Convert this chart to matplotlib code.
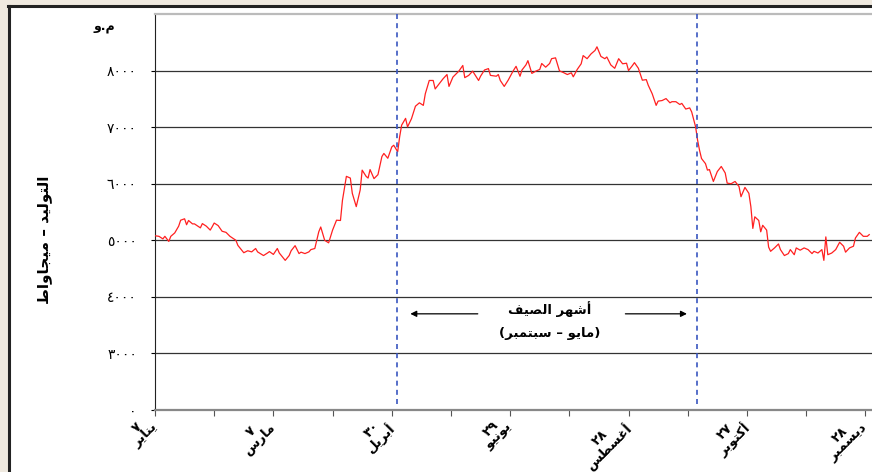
import re
import matplotlib
matplotlib.use("Agg")
import matplotlib.pyplot as plt
import matplotlib.transforms as mtransforms
from matplotlib.patches import Rectangle
from matplotlib.lines import Line2D

plt.rcParams['font.family'] = ['DejaVu Sans']

# daily generation (MW); x = days after 7 January
days = [
    0, 2, 4, 5, 7, 8, 10, 12, 13, 15, 16, 17, 19, 20, 23, 24, 26, 28, 29, 30,
    32, 34, 36, 38, 41, 42, 45, 47, 49, 51, 52, 55, 57, 58, 60, 62, 63, 66, 68, 69,
    71, 73, 74, 76, 78, 79, 81, 83, 84, 86, 88, 90, 92, 94, 95, 97, 99, 100, 102, 104,
    105, 107, 108, 109, 111, 113, 115, 116, 118, 120, 121, 123, 124, 125, 127, 128, 130, 132, 134, 136,
    137, 139, 141, 142, 144, 146, 148, 149, 151, 153, 154, 156, 157, 159, 161, 164, 165, 167, 169, 170,
    173, 174, 175, 177, 179, 181, 182, 183, 185, 186, 188, 189, 191, 193, 195, 196, 198, 200, 201, 203,
    205, 207, 209, 211, 212, 214, 216, 217, 219, 221, 223, 224, 226, 228, 229, 231, 233, 235, 237, 239,
    240, 242, 243, 245, 247, 249, 250, 252, 254, 255, 257, 259, 261, 262, 264, 266, 267, 269, 271, 272,
    274, 275, 276, 277, 279, 280, 281, 283, 285, 287, 289, 290, 292, 294, 296, 297, 299, 301, 302, 303,
    304, 306, 307, 308, 310, 311, 312, 314, 316, 317, 319, 321, 322, 324, 325, 327, 329, 331, 333, 334,
    336, 338, 339, 340, 341, 343, 345, 347, 349, 350, 352, 354, 355, 357, 359, 361, 362,
]
load_mw = [
    5080, 5070, 5025, 5070, 4980, 5070, 5130, 5250, 5355, 5380, 5275, 5350, 5290, 5290, 5220, 5295, 5250, 5180, 5240, 5305,
    5260, 5160, 5140, 5070, 5000, 4910, 4780, 4815, 4795, 4855, 4795, 4730, 4775, 4800, 4750, 4855, 4775, 4645, 4730, 4815,
    4905, 4765, 4790, 4765, 4795, 4835, 4855, 5150, 5235, 5000, 4955, 5180, 5355, 5350, 5705, 6130, 6100, 5830, 5595, 5890,
    6240, 6130, 6100, 6250, 6090, 6160, 6480, 6535, 6450, 6650, 6680, 6565, 6830, 7035, 7155, 7005, 7150, 7370, 7430, 7385,
    7590, 7825, 7825, 7675, 7765, 7855, 7930, 7720, 7885, 7955, 7990, 8090, 7875, 7915, 7990, 7825, 7900, 8010, 8035, 7915,
    7900, 7930, 7825, 7720, 7830, 7960, 8020, 8075, 7900, 8010, 8100, 8175, 7950, 7990, 8020, 8125, 8060, 8125, 8210, 8225,
    7995, 7965, 7930, 7960, 7890, 8020, 8120, 8265, 8210, 8295, 8355, 8420, 8250, 8210, 8240, 8100, 8040, 8210, 8120, 8130,
    8000, 8090, 8140, 8040, 7830, 7840, 7740, 7590, 7385, 7460, 7470, 7505, 7430, 7450, 7450, 7400, 7420, 7320, 7340, 7270,
    7005, 6770, 6590, 6445, 6355, 6240, 6250, 6040, 6215, 6305, 6190, 6010, 6000, 6040, 5950, 5770, 5935, 5830, 5595, 5210,
    5415, 5350, 5150, 5265, 5180, 4880, 4805, 4865, 4935, 4835, 4730, 4765, 4835, 4745, 4865, 4825, 4865, 4835, 4765, 4805,
    4775, 4835, 4645, 5060, 4745, 4775, 4835, 4965, 4895, 4790, 4865, 4895, 5040, 5140, 5070, 5070, 5100,
]
assert len(days) == len(load_mw)

y_ticks = [2000, 3000, 4000, 5000, 6000, 7000, 8000]
y_labels = ['٠', '٣٠٠٠', '٤٠٠٠', '٥٠٠٠', '٦٠٠٠', '٧٠٠٠', '٨٠٠٠']
x_ticks = list(range(0, 361, 30))
month_labels = ['٧\nيناير', '٧\nمارس', '٣٠\nأبريل', '٢٩\nيونيو',
                '٢٨\nأغسطس', '٢٧\nأكتوبر', '٢٨\nديسمبر']
summer_start, summer_end = 122.5, 274.5


# --- tiny Arabic shaper (matplotlib has no shaping / bidi) ---
FORMS = {
    'ا': (0xFE8D, 0xFE8E), 'أ': (0xFE83, 0xFE84), 'د': (0xFEA9, 0xFEAA),
    'ر': (0xFEAD, 0xFEAE), 'و': (0xFEED, 0xFEEE),
    'ب': (0xFE8F, 0xFE90, 0xFE91, 0xFE92), 'ت': (0xFE95, 0xFE96, 0xFE97, 0xFE98),
    'ج': (0xFE9D, 0xFE9E, 0xFE9F, 0xFEA0), 'س': (0xFEB1, 0xFEB2, 0xFEB3, 0xFEB4),
    'ش': (0xFEB5, 0xFEB6, 0xFEB7, 0xFEB8), 'ص': (0xFEB9, 0xFEBA, 0xFEBB, 0xFEBC),
    'ط': (0xFEC1, 0xFEC2, 0xFEC3, 0xFEC4), 'غ': (0xFECD, 0xFECE, 0xFECF, 0xFED0),
    'ف': (0xFED1, 0xFED2, 0xFED3, 0xFED4), 'ك': (0xFED9, 0xFEDA, 0xFEDB, 0xFEDC),
    'ل': (0xFEDD, 0xFEDE, 0xFEDF, 0xFEE0), 'م': (0xFEE1, 0xFEE2, 0xFEE3, 0xFEE4),
    'ن': (0xFEE5, 0xFEE6, 0xFEE7, 0xFEE8), 'ه': (0xFEE9, 0xFEEA, 0xFEEB, 0xFEEC),
    'ي': (0xFEF1, 0xFEF2, 0xFEF3, 0xFEF4),
}


def shape_line(s):
    out = []
    for i, c in enumerate(s):
        if c not in FORMS:
            out.append(c)
            continue
        f = FORMS[c]
        prev = i > 0 and s[i - 1] in FORMS and len(FORMS[s[i - 1]]) == 4
        nxt = len(f) == 4 and i + 1 < len(s) and s[i + 1] in FORMS
        if prev and nxt:
            out.append(chr(f[3]))
        elif prev:
            out.append(chr(f[1]))
        elif nxt:
            out.append(chr(f[2]))
        else:
            out.append(chr(f[0]))
    vis = ''.join(out)[::-1]
    vis = re.sub(r'[0-9٠-٩]+', lambda m: m.group(0)[::-1], vis)
    return vis.translate(str.maketrans('()', ')('))


def ar(s):
    return '\n'.join(shape_line(l) for l in s.split('\n'))


fig = plt.figure(figsize=(8.72, 4.72), dpi=100)
fig.patch.set_facecolor('#efe9df')
fig.add_artist(Rectangle((9 / 872, 0), 1, 1 - 7 / 472, transform=fig.transFigure,
                         facecolor='white', edgecolor='none', zorder=0))
fig.add_artist(Line2D([8.5 / 872, 8.5 / 872], [0, 1 - 6 / 472], transform=fig.transFigure,
                      color='#222222', lw=2.2))
fig.add_artist(Line2D([8 / 872, 1], [1 - 6 / 472, 1 - 6 / 472], transform=fig.transFigure,
                      color='#222222', lw=2.2))

ax = fig.add_axes([155 / 872, 62 / 472, 1 - 155 / 872, 396 / 472])
ax.set_facecolor('white')
ax.set_xlim(0, 363.4)
ax.set_ylim(2000, 9000)

for v in y_ticks[1:]:
    ax.axhline(v, color='#333333', lw=0.9, zorder=1)

ax.plot(days, load_mw, color='#ff2020', lw=0.9, zorder=3)

for d in (summer_start, summer_end):
    ax.plot([d, d], [2100, 9000], color='#3a56c0', lw=1.2, ls=(0, (3, 2.5)), zorder=4)

arrow = dict(arrowstyle='-|>', color='black', lw=0.9, mutation_scale=9)
ax.annotate('', xy=(128, 3700), xytext=(165, 3700), arrowprops=arrow)
ax.annotate('', xy=(271, 3700), xytext=(237, 3700), arrowprops=arrow)
ax.text(200, 3790, ar('أشهر الصيف'), ha='center', va='center', fontsize=9.5, fontweight='bold')
ax.text(200, 3360, ar('(مايو – سبتمبر)'), ha='center', va='center', fontsize=9.5, fontweight='bold')

ax.set_yticks(y_ticks)
ax.set_yticklabels(y_labels, fontsize=10)
ax.set_xticks(x_ticks)
xlabels = []
for i in range(len(x_ticks)):
    xlabels.append(ar(month_labels[i // 2]) if i % 2 == 0 else '')
ax.set_xticklabels(xlabels, rotation=45, ha='right', va='top', rotation_mode='anchor',
                   multialignment='center', fontsize=9.5, fontweight='bold', linespacing=0.8)
ax.tick_params(axis='y', length=3, width=0.8, pad=10)
ax.tick_params(axis='x', length=4, width=0.8, pad=0, color='#555555')
shift = mtransforms.ScaledTranslation(-9 / 72, 2 / 72, fig.dpi_scale_trans)
for lbl in ax.get_xticklabels():
    lbl.set_transform(lbl.get_transform() + shift)

ax.spines['left'].set_color('#222222')
ax.spines['bottom'].set_color('#888888')
ax.spines['bottom'].set_linewidth(1.6)
ax.spines['top'].set_color('#bbbbbb')
ax.spines['top'].set_linewidth(1.6)
ax.spines['right'].set_visible(False)

fig.text(45 / 872, 1 - 240 / 472, ar('التوليد – ميجاواط'), rotation=90, ha='center', va='center',
         fontsize=11, fontweight='bold')
fig.text(104 / 872, 1 - 28 / 472, ar('م.و'), ha='center', va='center', fontsize=9, fontweight='bold')

fig.savefig('out.png', dpi=100, facecolor=fig.get_facecolor())
